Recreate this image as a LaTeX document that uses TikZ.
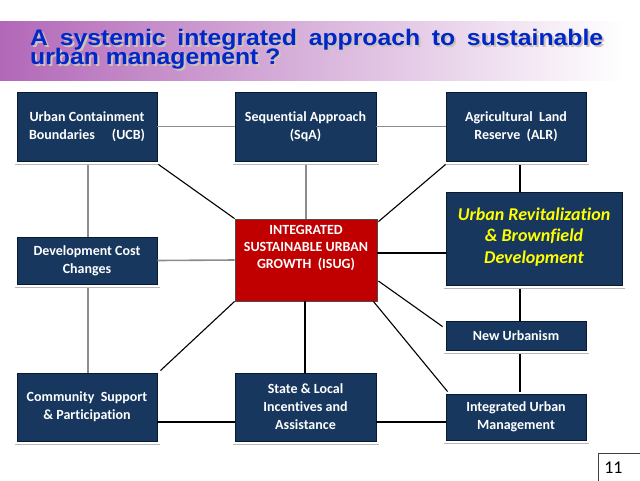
\documentclass[tikz,border=0pt]{standalone}
\usepackage{fontspec}
\setmainfont{Carlito}[Ligatures=CommonOff]
\newfontfamily\titlefont{Liberation Sans}[FakeStretch=1.1]
\usetikzlibrary{calc}
\definecolor{navy}{RGB}{23,55,94}
\definecolor{navyedge}{RGB}{10,25,50}
\definecolor{isugred}{RGB}{192,0,0}
\definecolor{titleblue}{RGB}{0,40,200}
\definecolor{titleshadow}{RGB}{205,195,185}
\definecolor{bandpurple}{RGB}{178,104,184}
\definecolor{bandmid}{RGB}{228,218,232}
\definecolor{linegray}{RGB}{140,140,140}
\definecolor{shadowgray}{RGB}{185,185,185}
\definecolor{uryellow}{RGB}{255,255,0}
\tikzset{
  navybox/.style={draw=navyedge, line width=0.8pt, fill=navy, text=white,
    font=\bfseries\fontsize{14}{18}\selectfont, align=center, inner sep=0pt},
  redbox/.style={draw=black!70, line width=0.8pt, fill=isugred, text=white,
    font=\bfseries\fontsize{14}{17}\selectfont, align=center, inner sep=0pt},
  glink/.style={draw=linegray, line width=1.6pt},
  blink/.style={draw=black, line width=1.1pt},
  boxshadow/.style={draw=shadowgray, line width=1.8pt},
  titletext/.style={font=\titlefont\bfseries\fontsize{22.5}{19}\selectfont, inner sep=0pt, anchor=base west}
}
\newcommand{\lineone}{\hbox to 573pt{A\hskip 6pt plus 1fill minus 6pt systemic\hskip 6pt plus 1fill minus 6pt integrated\hskip 6pt plus 1fill minus 6pt approach\hskip 6pt plus 1fill minus 6pt to\hskip 6pt plus 1fill minus 6pt sustainable}}
\begin{document}
\begin{tikzpicture}[x=1pt,y=-1pt]
\useasboundingbox (0,0) rectangle (640,480);
\fill[white] (0,0) rectangle (640,480);
% title band
\shade[left color=bandpurple, middle color=bandmid, right color=white] (0,21) rectangle (624,80);
\node[titletext, text=titleshadow] at (32,47.5) {\lineone};
\node[titletext, text=titleshadow] at (32,66.5) {urban management ?};
\node[titletext, text=titleblue] (t1) at (30,45) {\lineone};
\node[titletext, text=titleblue] (t2) at (30,64) {urban management ?};

% boxes
\node[navybox, minimum width=140pt, minimum height=69pt] (UCB) at (87,126.5)
  {Urban Containment\\\hbox to 116pt{Boundaries\hfill(UCB)}};
\node[navybox, minimum width=141pt, minimum height=69pt] (SqA) at (305.5,126.5)
  {Sequential Approach\\(SqA)};
\node[navybox, minimum width=140pt, minimum height=69pt] (ALR) at (516,126.5)
  {Agricultural\ \ Land\\Reserve\ \ (ALR)};
\node[navybox, minimum width=140pt, minimum height=47pt] (DC) at (87,260.5)
  {Development Cost\\Changes};
\node[redbox, minimum width=142pt, minimum height=82pt] (ISUG) at (306,260)
  {\raisebox{8.5pt}[0pt][0pt]{\parbox{140pt}{\centering INTEGRATED\\SUSTAINABLE URBAN\\GROWTH\ \ (ISUG)}}};
\node[navybox, minimum width=176pt, minimum height=93pt, text=uryellow,
  font=\bfseries\itshape\fontsize{18}{21.5}\selectfont] (UR) at (534,238.5)
  {\raisebox{-2.5pt}[0pt][0pt]{\parbox{170pt}{\centering Urban Revitalization\\\& Brownfield\\Development}}};
\node[navybox, minimum width=140pt, minimum height=29pt] (NU) at (516,335.5)
  {New Urbanism};
\node[navybox, minimum width=140pt, minimum height=68pt] (Com) at (87,407)
  {Community\ \ Support\\\& Participation};
\node[navybox, minimum width=141pt, minimum height=68pt] (State) at (305.5,407)
  {State \& Local\\Incentives and\\Assistance};
\node[navybox, minimum width=140pt, minimum height=46pt] (IUM) at (516,417)
  {Integrated Urban\\Management};

% box shadows
\foreach \b in {UCB,SqA,ALR,DC,UR,NU,Com,State,IUM}
  \draw[boxshadow] ($(\b.south west)+(-2,3)$) -- ($(\b.south east)+(3,3)$);

% gray connectors
\draw[glink] (UCB.east) -- (SqA.west);
\draw[glink] (SqA.east) -- (ALR.west);
\draw[glink] ($(UCB.south)+(1,4)$) -- ($(DC.north)+(1,0)$);
\draw[glink] ($(DC.south)+(1,4)$) -- ($(Com.north)+(1,0)$);
\draw[glink] (DC.east) -- (ISUG.west);
\draw[glink] ($(SqA.south)+(0.5,4)$) -- (ISUG.north);

% black connectors
\draw[blink] ($(UCB.south east)+(1,3)$) -- (ISUG.north west);
\draw[blink] ($(ALR.south west)+(0,3)$) -- ($(ISUG.north east)+(1,3)$);
\draw[blink] ($(ALR.south)+(4,4)$) -- ($(UR.north)+(-14,0)$);
\draw[blink] ($(ISUG.east)+(0,-7)$) -- ($(UR.west)+(0,14.5)$);
\draw[blink] ($(UR.south)+(-14,4)$) -- ($(NU.north)+(4,0)$);
\draw[blink] ($(ISUG.east)+(1,21)$) -- ($(NU.north west)+(-3,6)$);
\draw[blink] ($(NU.south)+(4,4)$) -- ($(IUM.north)+(4,-2)$);
\draw[blink] ($(ISUG.south east)+(-4,0)$) -- ($(IUM.north west)+(2,-2)$);
\draw[blink] ($(ISUG.south)+(-1,0)$) -- ($(State.north)+(-0.5,0)$);
\draw[blink] (ISUG.south west) -- ($(Com.north east)+(3,-2)$);
\draw[blink] ($(Com.east)+(0,15)$) -- ($(State.west)+(0,15)$);
\draw[blink] ($(State.east)+(0,15)$) -- ($(IUM.west)+(0,5)$);

% page number
\node[draw=black!75, line width=0.6pt, anchor=north west, text width=36pt, align=left,
  inner xsep=6pt, minimum height=28pt, font=\fontsize{18}{20}\selectfont] (pg) at (598,453) {11};
\end{tikzpicture}
\end{document}
